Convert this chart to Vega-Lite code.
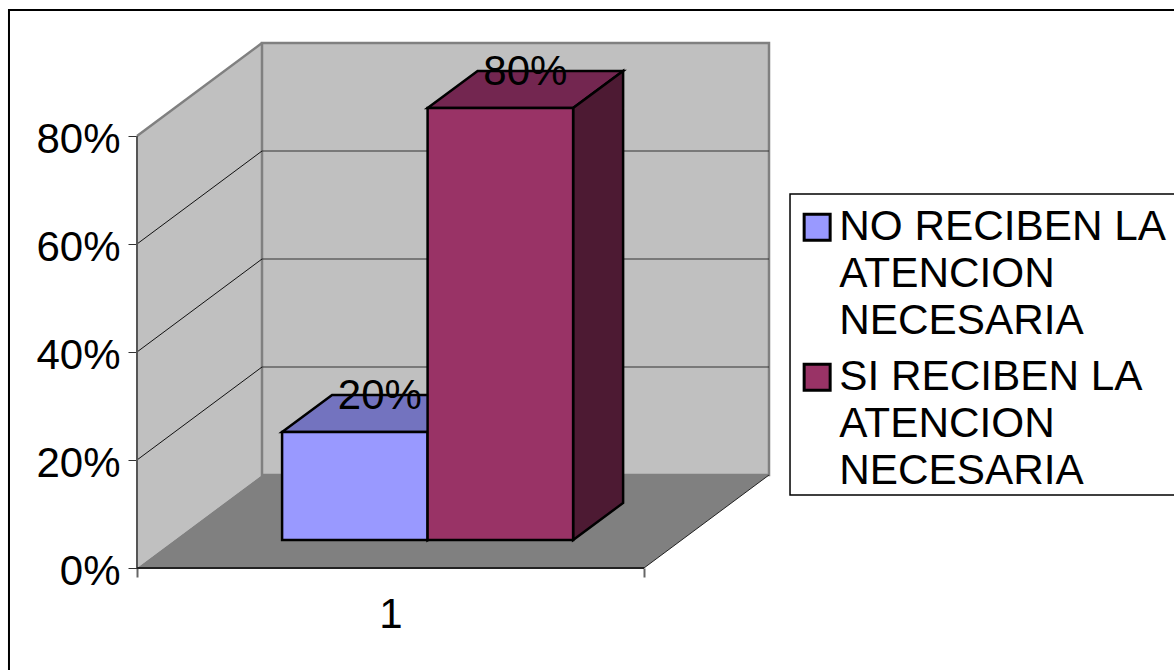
{
  "$schema": "https://vega.github.io/schema/vega-lite/v6.json",
  "width": 1174,
  "height": 670,
  "padding": 0,
  "autosize": {"type": "none"},
  "background": "#ffffff",
  "config": {"view": {"stroke": null}, "font": "Liberation Sans", "style": {"guide-label": {"lineHeight": 47}}},
  "params": [
    {"name": "DX", "value": 0.24655},
    {"name": "DY", "value": 0.17222},
    {"name": "BAR_LEFT", "value": 0.2122},
    {"name": "BAR_W", "value": 0.287}
  ],
  "datasets": {
    "bars": [
      {"serie": "NO RECIBEN LA ATENCION NECESARIA", "value": 0.2},
      {"serie": "SI RECIBEN LA ATENCION NECESARIA", "value": 0.8}
    ],
    "depths": [{"depth": 0}, {"depth": 1}],
    "grid": [{"tick": 0.2}, {"tick": 0.4}, {"tick": 0.6}, {"tick": 0.8}],
    "sheet": [{"sheet": "chart area"}]
  },
  "encoding": {
    "x": {
      "field": "x", "type": "quantitative", "stack": null,
      "scale": {"domain": [-0.27022, 2.04536], "nice": false, "zero": false},
      "axis": {
        "orient": "bottom", "offset": -102, "title": null, "grid": false, "domain": false,
        "values": [0, 0.5, 1],
        "labelExpr": "datum.value == 0.5 ? '1' : ''",
        "labelFont": "Liberation Sans", "labelFontSize": 42, "labelColor": "#000000",
        "labelPadding": 17, "labelOverlap": false, "labelFlush": false,
        "tickSize": 9, "tickWidth": 2, "tickColor": "#666666",
        "tickOpacity": {"condition": {"test": "datum.value == 0.5", "value": 0}, "value": 1}
      }
    },
    "y": {
      "field": "y", "type": "quantitative", "stack": null,
      "scale": {"domain": [-0.18889, 1.05185], "nice": false, "zero": false},
      "axis": {
        "orient": "left", "offset": -137, "title": null, "grid": false, "domain": false,
        "values": [0, 0.2, 0.4, 0.6, 0.8],
        "format": ".0%",
        "labelFont": "Liberation Sans", "labelFontSize": 42, "labelColor": "#000000",
        "labelPadding": 8, "labelOffset": 4,
        "tickSize": 9, "tickWidth": 1, "tickColor": "#333333"
      }
    }
  },
  "layer": [
    {
      "name": "chart area border",
      "data": {"name": "sheet"},
      "transform": [
        {"calculate": "-0.2525", "as": "x"},
        {"calculate": "2.2", "as": "x2"},
        {"calculate": "1.0333", "as": "y"},
        {"calculate": "-0.3", "as": "y2"}
      ],
      "mark": {"type": "rect", "filled": false, "stroke": "#000000", "strokeWidth": 2, "clip": false},
      "encoding": {"x2": {"field": "x2"}, "y2": {"field": "y2"}}
    },
    {
      "name": "legend box",
      "data": {"name": "sheet"},
      "transform": [
        {"calculate": "1.288", "as": "x"},
        {"calculate": "2.2", "as": "x2"},
        {"calculate": "0.6926", "as": "y"},
        {"calculate": "0.1352", "as": "y2"}
      ],
      "mark": {"type": "rect", "fill": "#ffffff", "stroke": "#000000", "strokeWidth": 1.5},
      "encoding": {"x2": {"field": "x2"}, "y2": {"field": "y2"}}
    },
    {
      "name": "left wall",
      "data": {"name": "depths"},
      "transform": [
        {"calculate": "datum.depth * DX", "as": "x"},
        {"calculate": "0.8 + datum.depth * DY", "as": "y"},
        {"calculate": "datum.depth * DY", "as": "y2"}
      ],
      "mark": {"type": "area", "fill": "#c0c0c0", "orient": "vertical"},
      "encoding": {"y2": {"field": "y2"}}
    },
    {
      "name": "back wall",
      "data": {"name": "sheet"},
      "transform": [
        {"calculate": "DX", "as": "x"},
        {"calculate": "1 + DX", "as": "x2"},
        {"calculate": "0.8 + DY", "as": "y"},
        {"calculate": "DY", "as": "y2"}
      ],
      "mark": {"type": "rect", "fill": "#c0c0c0", "stroke": "#808080", "strokeWidth": 2.5},
      "encoding": {"x2": {"field": "x2"}, "y2": {"field": "y2"}}
    },
    {
      "name": "floor",
      "data": {"name": "depths"},
      "transform": [
        {"calculate": "datum.depth * DX", "as": "x"},
        {"calculate": "1 + datum.depth * DX", "as": "x2"},
        {"calculate": "datum.depth * DY", "as": "y"}
      ],
      "mark": {"type": "area", "fill": "#808080", "orient": "horizontal"},
      "encoding": {"x2": {"field": "x2"}}
    },
    {
      "name": "gridlines on the back wall",
      "data": {"name": "grid"},
      "transform": [
        {"filter": "datum.tick < 0.8"},
        {"calculate": "DX", "as": "x"},
        {"calculate": "1 + DX", "as": "x2"},
        {"calculate": "datum.tick + DY", "as": "y"}
      ],
      "mark": {"type": "rule", "stroke": "#333333", "strokeWidth": 1},
      "encoding": {"x2": {"field": "x2"}}
    },
    {
      "name": "gridlines on the left wall",
      "data": {"name": "grid"},
      "transform": [
        {"filter": "datum.tick < 0.8"},
        {"calculate": "0", "as": "x"},
        {"calculate": "DX", "as": "x2"},
        {"calculate": "datum.tick", "as": "y"},
        {"calculate": "datum.tick + DY", "as": "y2"}
      ],
      "mark": {"type": "rule", "stroke": "#111111", "strokeWidth": 1},
      "encoding": {"x2": {"field": "x2"}, "y2": {"field": "y2"}}
    },
    {
      "name": "top edge of the left wall",
      "data": {"name": "sheet"},
      "transform": [
        {"calculate": "0", "as": "x"},
        {"calculate": "DX", "as": "x2"},
        {"calculate": "0.8", "as": "y"},
        {"calculate": "0.8 + DY", "as": "y2"}
      ],
      "mark": {"type": "rule", "stroke": "#808080", "strokeWidth": 2.5},
      "encoding": {"x2": {"field": "x2"}, "y2": {"field": "y2"}}
    },
    {
      "name": "front edge of the left wall",
      "data": {"name": "sheet"},
      "transform": [
        {"calculate": "0", "as": "x"},
        {"calculate": "0", "as": "y"},
        {"calculate": "0.8", "as": "y2"}
      ],
      "mark": {"type": "rule", "stroke": "#555555", "strokeWidth": 2},
      "encoding": {"y2": {"field": "y2"}}
    },
    {
      "name": "front edge of the floor",
      "data": {"name": "sheet"},
      "transform": [
        {"calculate": "0", "as": "x"},
        {"calculate": "1", "as": "x2"},
        {"calculate": "0", "as": "y"}
      ],
      "mark": {"type": "rule", "stroke": "#222222", "strokeWidth": 2},
      "encoding": {"x2": {"field": "x2"}}
    },
    {
      "name": "right edge of the floor",
      "data": {"name": "sheet"},
      "transform": [
        {"calculate": "1", "as": "x"},
        {"calculate": "1 + DX", "as": "x2"},
        {"calculate": "0", "as": "y"},
        {"calculate": "DY", "as": "y2"}
      ],
      "mark": {"type": "rule", "stroke": "#222222", "strokeWidth": 1},
      "encoding": {"x2": {"field": "x2"}, "y2": {"field": "y2"}}
    },
    {
      "name": "bar tops",
      "data": {"name": "bars"},
      "transform": [
        {"window": [{"op": "row_number", "as": "slot"}]},
        {"calculate": "0.3", "as": "near"},
        {"calculate": "0.7", "as": "far"},
        {"fold": ["near", "far"], "as": ["corner", "depth"]},
        {"calculate": "BAR_LEFT + (datum.slot - 1) * BAR_W + datum.depth * DX", "as": "x"},
        {"calculate": "BAR_LEFT + datum.slot * BAR_W + datum.depth * DX", "as": "x2"},
        {"calculate": "datum.value + datum.depth * DY", "as": "y"}
      ],
      "mark": {"type": "area", "orient": "horizontal", "stroke": "#000000", "strokeWidth": 2.5},
      "encoding": {
        "x2": {"field": "x2"},
        "fill": {
          "field": "serie", "type": "nominal", "legend": null,
          "scale": {"domain": ["NO RECIBEN LA ATENCION NECESARIA", "SI RECIBEN LA ATENCION NECESARIA"], "range": ["#7373bf", "#732650"]}
        }
      }
    },
    {
      "name": "bar sides",
      "data": {"name": "bars"},
      "transform": [
        {"window": [{"op": "row_number", "as": "slot"}]},
        {"calculate": "0.3", "as": "near"},
        {"calculate": "0.7", "as": "far"},
        {"fold": ["near", "far"], "as": ["corner", "depth"]},
        {"calculate": "BAR_LEFT + datum.slot * BAR_W + datum.depth * DX", "as": "x"},
        {"calculate": "datum.value + datum.depth * DY", "as": "y"},
        {"calculate": "datum.depth * DY", "as": "y2"}
      ],
      "mark": {"type": "area", "orient": "vertical", "stroke": "#000000", "strokeWidth": 2.5},
      "encoding": {
        "y2": {"field": "y2"},
        "fill": {
          "field": "serie", "type": "nominal", "legend": null,
          "scale": {"domain": ["NO RECIBEN LA ATENCION NECESARIA", "SI RECIBEN LA ATENCION NECESARIA"], "range": ["#4d4d80", "#4d1a33"]}
        }
      }
    },
    {
      "name": "bar fronts",
      "data": {"name": "bars"},
      "transform": [
        {"window": [{"op": "row_number", "as": "slot"}]},
        {"calculate": "BAR_LEFT + (datum.slot - 1) * BAR_W + 0.3 * DX", "as": "x"},
        {"calculate": "BAR_LEFT + datum.slot * BAR_W + 0.3 * DX", "as": "x2"},
        {"calculate": "datum.value + 0.3 * DY", "as": "y"},
        {"calculate": "0.3 * DY", "as": "y2"}
      ],
      "mark": {"type": "rect", "stroke": "#000000", "strokeWidth": 2.5},
      "encoding": {
        "x2": {"field": "x2"},
        "y2": {"field": "y2"},
        "fill": {
          "field": "serie", "type": "nominal",
          "scale": {"domain": ["NO RECIBEN LA ATENCION NECESARIA", "SI RECIBEN LA ATENCION NECESARIA"], "range": ["#9999ff", "#993366"]},
          "legend": {
            "orient": "none", "legendX": 790, "legendY": 195, "title": null,
            "padding": 11,
            "symbolType": "square", "symbolSize": 676, "symbolStrokeColor": "#000000", "symbolStrokeWidth": 3,
            "symbolOffset": -5,
            "labelFont": "Liberation Sans", "labelFontSize": 42.3, "labelColor": "#000000",
            "labelLimit": 0, "labelOffset": 1, "rowPadding": 13,
            "labelExpr": "split(replace(replace(datum.label, ' LA ', ' LA|'), ' NECESARIA', '|NECESARIA'), '|')"
          }
        }
      }
    },
    {
      "name": "value labels",
      "data": {"name": "bars"},
      "transform": [
        {"window": [{"op": "row_number", "as": "slot"}]},
        {"calculate": "BAR_LEFT + (datum.slot - 0.5) * BAR_W + 0.5 * DX", "as": "x"},
        {"calculate": "datum.value + 0.5 * DY", "as": "y"}
      ],
      "mark": {"type": "text", "font": "Liberation Sans", "fontSize": 42, "color": "#000000", "align": "center", "baseline": "alphabetic", "dy": -4},
      "encoding": {"text": {"field": "value", "type": "quantitative", "format": ".0%"}}
    }
  ],
  "resolve": {"scale": {"fill": "independent"}}
}
